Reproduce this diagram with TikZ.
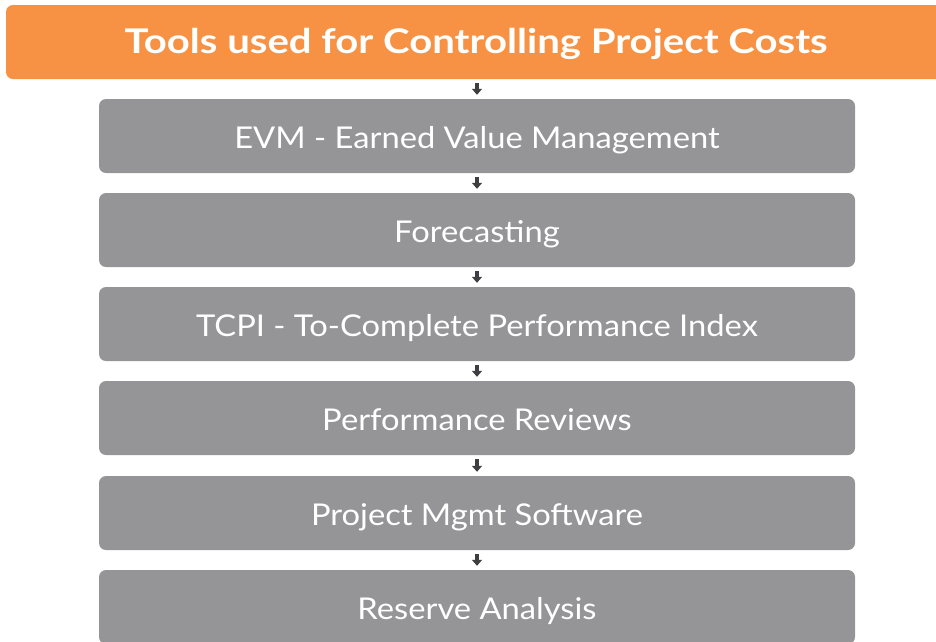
\documentclass[tikz,border=0pt]{standalone}
\usepackage{fontspec}
\setmainfont{Lato}
\newfontfamily\headfont[FakeStretch=1.18]{Lato}
\newfontfamily\toolfont[FakeStretch=1.09]{Lato}
\usetikzlibrary{arrows.meta}
\definecolor{costorange}{HTML}{F79244}
\definecolor{toolgray}{HTML}{959597}
\definecolor{arrowdark}{HTML}{3F3F41}

\begin{document}
\begin{tikzpicture}[x=1pt, y=-1pt]
	\tikzstyle{every node} = [rounded corners=7pt, inner sep=0pt, text=white, text depth=0pt]
	\tikzstyle{title} = [fill=costorange, minimum width=940pt, minimum height=74pt, text height=22pt, font=\fontsize{34}{40}\headfont\bfseries]
	\tikzstyle{tool} = [fill=toolgray, minimum width=756pt, minimum height=74pt, text height=24.5pt, font=\fontsize{30}{36}\toolfont]
	\tikzstyle{down} = [draw=arrowdark, line width=4pt, -{Triangle[width=10pt, length=6pt]}, shorten <=4pt, shorten >=4pt]
	\useasboundingbox (0,0) rectangle (936,641);
	\clip (0,0) rectangle (936,641);
	\node [title] (head) at (476,42) {Tools used for Controlling Project Costs};
	\node [tool] (evm) at (477,136) {EVM - Earned Value Management}; \node [tool] (fore) at (477,230) {Forecasting}; \node [tool] (tcpi) at (477,324) {TCPI - To-Complete Performance Index};
	\node [tool] (perf) at (477,418) {Performance Reviews}; \node [tool] (soft) at (477,513) {Project Mgmt Software}; \node [tool] (res) at (477,607) {Reserve Analysis};
	
	\draw [down] (head.south -| evm.north) -- (evm.north); \draw [down] (evm) -- (fore); \draw [down] (fore) -- (tcpi);
	\draw [down] (tcpi) -- (perf); \draw [down] (perf) -- (soft); \draw [down] (soft) -- (res);
\end{tikzpicture}
\end{document}
